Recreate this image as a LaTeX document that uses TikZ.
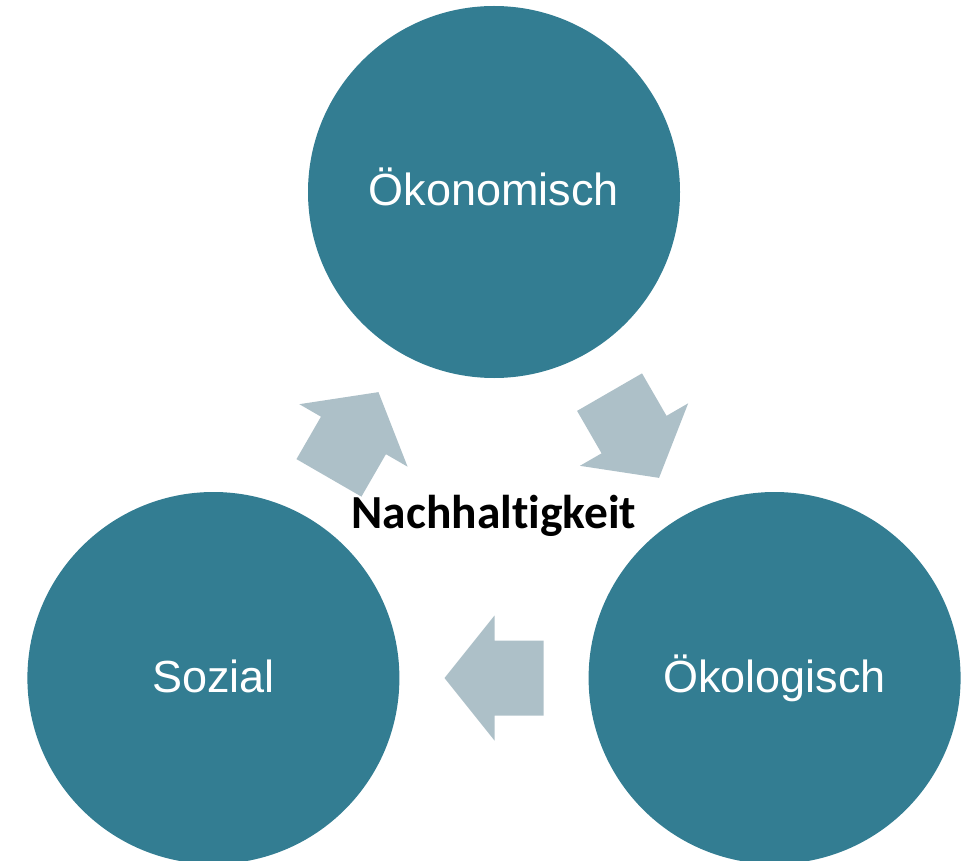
\documentclass[tikz,border=0pt]{standalone}
\usepackage{fontspec}
\setmainfont{Liberation Sans}
\newfontfamily\calibrifont[Ligatures=NoCommon]{Carlito}
\usepackage{tikz}
\usetikzlibrary{calc}
\definecolor{pillarteal}{RGB}{51,125,146}
\definecolor{cyclegrey}{RGB}{173,192,200}
\tikzset{
every picture/.style={line width=0.8pt},
%%%%%%%%%%  Node styles
pillar/.style={circle,fill=pillarteal,text=white,inner sep=0pt,
               text height=0.7cm,text depth=0.14cm,
               minimum size=7.44cm,font=\fontsize{25.6}{30}\selectfont},
centre label/.style={font=\calibrifont\bfseries\fontsize{27}{32}\selectfont,
                     text=black},
%%%%%%% Fill styles %%%%%%%%%%%%%%%
cyclearrow/.style={fill=cyclegrey,draw=none}
}

\begin{document}
\begin{tikzpicture}
\useasboundingbox (-9.88,-6.88) rectangle (9.56,10.32);
\clip (-9.88,-6.88) rectangle (9.56,10.32);
\node[pillar] (oekon) at (90:6.48) {Ökonomisch};
\node[pillar] (sozial) at (210:6.48) {Sozial};
\node[pillar] (oekol) at (330:6.48) {Ökologisch};
%%%% block arrows, clockwise
\foreach \ang in {30,150,270}
  \fill[cyclearrow,shift={(\ang:3.24)},rotate=\ang-90]
    (-0.99,-0.75) -- (-0.01,-0.75) -- (-0.01,-1.25) -- (0.99,0)
    -- (-0.01,1.25) -- (-0.01,0.75) -- (-0.99,0.75) -- cycle;
\node[centre label] (mitte) at (0,0) {Nachhaltigkeit};
\end{tikzpicture}
\end{document}
